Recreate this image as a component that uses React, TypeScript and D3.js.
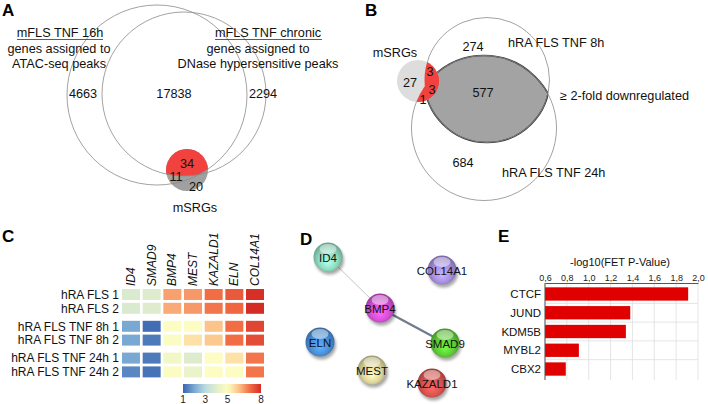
import React, { useRef, useEffect } from 'react';
import * as d3 from 'd3';

const width = 708;
const height = 404;
const font = '"Liberation Sans", Arial, Helvetica, sans-serif';

// A: mFLS gene sets vs mSRGs
const vennASets = ['mFLS TNF 16h', 'mFLS TNF chronic'];
const vennASubs = [['genes assigned to', 'ATAC-seq peaks'], ['genes assigned to', 'DNase hypersensitive peaks']];
const vennACounts = [4663, 17838, 2294];
const srgACounts = [34, 11, 20];

// B: hRA FLS downregulated genes vs mSRGs
const vennBSets = ['hRA FLS TNF 8h', 'hRA FLS TNF 24h'];
const vennBCounts = [274, 577, 684];
const srgBCounts = [27, 3, 3, 1];

// C: heatmap
const samples = ['hRA FLS 1', 'hRA FLS 2', 'hRA FLS TNF 8h 1', 'hRA FLS TNF 8h 2', 'hRA FLS TNF 24h 1', 'hRA FLS TNF 24h 2'];
const sampleGroup = [0, 0, 1, 1, 2, 2];
const genes = ['ID4', 'SMAD9', 'BMP4', 'MEST', 'KAZALD1', 'ELN', 'COL14A1'];
const expression = [
  [3.8, 3.9, 6.4, 6.5, 7.0, 7.3, 7.95],
  [3.8, 3.9, 6.3, 6.5, 6.9, 7.1, 8.0],
  [2.0, 1.1, 5.0, 5.0, 6.0, 7.0, 7.6],
  [2.0, 1.3, 4.9, 5.5, 5.9, 7.0, 7.5],
  [2.0, 1.3, 4.6, 3.9, 5.0, 5.5, 6.9],
  [1.5, 1.2, 4.9, 4.3, 5.0, 5.0, 6.9],
];
const colorTicks = [1, 3, 5, 8];
const colorStops = [1, 2, 3, 4, 5, 6, 7, 8];
const colorRange = ['#3a66b0', '#79a8d3', '#bcdce0', '#e2eecb', '#fdfdc3', '#fcc48b', '#f26c44', '#d42c25'];

// D: STRING network
const nodes = ['ID4', 'COL14A1', 'BMP4', 'ELN', 'SMAD9', 'MEST', 'KAZALD1'];
const nodeColors = ['#8fdcbf', '#a68fe0', '#d64fd6', '#4a8fd6', '#5ecb36', '#ddd59c', '#d9534f'];
const links = [['ID4', 'BMP4', 1], ['BMP4', 'SMAD9', 2]];

// E: bar chart
const factors = ['CTCF', 'JUND', 'KDM5B', 'MYBL2', 'CBX2'];
const fetScores = [1.91, 1.38, 1.34, 0.91, 0.79];
const fetTicks = [0.6, 0.8, 1.0, 1.2, 1.4, 1.6, 1.8, 2.0];

// layout for the network (pixel positions inside panel D)
const nodeLayout = {
  ID4: [328, 257], COL14A1: [442, 270], BMP4: [380, 308], ELN: [320, 342],
  SMAD9: [445, 343], MEST: [372, 370], KAZALD1: [432, 383],
};

export default function App() {
  const svgRef = useRef(null);

  useEffect(() => {
    const svg = d3.select(svgRef.current);
    svg.selectAll('*').remove();
    svg.attr('width', width).attr('height', height).style('font-family', font);
    const defs = svg.append('defs');

    const letter = (t, x, y) => svg.append('text').attr('x', x).attr('y', y)
      .attr('font-size', 17).attr('font-weight', 'bold').text(t);

    const label = (g, t, x, y, size = 12.7, anchor = 'middle') => g.append('text')
      .attr('x', x).attr('y', y).attr('dy', '0.35em').attr('text-anchor', anchor)
      .attr('font-size', size).attr('fill', '#111').text(t);

    // ---------- A ----------
    const gA = svg.append('g');
    letter('A', 2, 16);
    const cL = { x: 157, y: 95, r: 90 };
    const cR = { x: 184, y: 94, r: 82 };
    const cS = { x: 187, y: 170, r: 21 };
    defs.append('clipPath').attr('id', 'clipAL').append('circle').attr('cx', cL.x).attr('cy', cL.y).attr('r', cL.r);
    defs.append('clipPath').attr('id', 'clipAR').append('circle').attr('cx', cR.x).attr('cy', cR.y).attr('r', cR.r);

    gA.append('circle').attr('cx', cS.x).attr('cy', cS.y).attr('r', cS.r).attr('fill', '#a0a0a0');
    gA.append('g').attr('clip-path', 'url(#clipAL)')
      .append('g').attr('clip-path', 'url(#clipAR)')
      .append('circle').attr('cx', cS.x).attr('cy', cS.y).attr('r', cS.r).attr('fill', '#f2423f');
    [cL, cR].forEach(c => gA.append('circle').attr('cx', c.x).attr('cy', c.y).attr('r', c.r)
      .attr('fill', 'none').attr('stroke', '#8a8a8a').attr('stroke-width', 0.8));

    const titleA = [[60, 17, 103], [268, 215, 322]];
    vennASets.forEach((s, i) => {
      const [cx, x0, x1] = titleA[i];
      label(gA, s, cx, 33);
      gA.append('line').attr('x1', x0).attr('x2', x1).attr('y1', 39.5).attr('y2', 39.5)
        .attr('stroke', '#333').attr('stroke-width', 0.8);
      vennASubs[i].forEach((t, j) => label(gA, t, i === 0 ? 59 : 258, 49 + j * 15));
    });
    const posA = [[83, 94], [174, 94], [263, 94]];
    vennACounts.forEach((v, i) => label(gA, String(v), posA[i][0], posA[i][1]));
    const posSA = [[187, 164], [176, 177], [196, 187]];
    srgACounts.forEach((v, i) => label(gA, String(v), posSA[i][0], posSA[i][1]));
    label(gA, 'mSRGs', 195, 208);

    // ---------- B ----------
    const gB = svg.append('g');
    letter('B', 365, 16);
    const cT = { x: 487, y: 80, r: 62.5 };
    const cB = { x: 484, y: 128, r: 72.5 };
    const cM = { x: 418, y: 81, r: 21 };
    defs.append('clipPath').attr('id', 'clipBT').append('circle').attr('cx', cT.x).attr('cy', cT.y).attr('r', cT.r);
    defs.append('clipPath').attr('id', 'clipBB').append('circle').attr('cx', cB.x).attr('cy', cB.y).attr('r', cB.r);
    gB.append('g').attr('clip-path', 'url(#clipBB)')
      .append('circle').attr('cx', cT.x).attr('cy', cT.y).attr('r', cT.r)
      .attr('fill', '#a3a3a3').attr('stroke', '#333').attr('stroke-width', 1.6);
    gB.append('g').attr('clip-path', 'url(#clipBT)')
      .append('circle').attr('cx', cB.x).attr('cy', cB.y).attr('r', cB.r)
      .attr('fill', 'none').attr('stroke', '#333').attr('stroke-width', 1.6);
    [cT, cB].forEach(c => gB.append('circle').attr('cx', c.x).attr('cy', c.y).attr('r', c.r)
      .attr('fill', 'none').attr('stroke', '#8a8a8a').attr('stroke-width', 0.8));
    gB.append('circle').attr('cx', cM.x).attr('cy', cM.y).attr('r', cM.r).attr('fill', '#dddddd');
    ['clipBT', 'clipBB'].forEach(id => gB.append('g').attr('clip-path', `url(#${id})`)
      .append('circle').attr('cx', cM.x).attr('cy', cM.y).attr('r', cM.r).attr('fill', '#f2423f'));

    label(gB, 'mSRGs', 395, 53);
    const posB = [[473, 47], [483, 93], [463, 163]];
    vennBCounts.forEach((v, i) => label(gB, String(v), posB[i][0], posB[i][1]));
    const posSB = [[410, 83], [430, 72], [432, 90], [423, 100]];
    srgBCounts.forEach((v, i) => label(gB, String(v), posSB[i][0], posSB[i][1]));
    label(gB, vennBSets[0], 508, 43, 12.7, 'start');
    label(gB, vennBSets[1], 502, 173, 12.7, 'start');
    label(gB, '\u2265 2-fold downregulated', 560, 96, 12.7, 'start');

    // ---------- C ----------
    const gC = svg.append('g');
    letter('C', 2, 242);
    const color = d3.scaleLinear().domain(colorStops).range(colorRange).interpolate(d3.interpolateRgb);
    const xC = d3.scaleBand().domain(genes).range([122, 264]).paddingInner(0.13);
    const rowY = d3.scaleLinear().domain([0, 5]).range([289, 359]);
    const yOf = i => rowY(i) + sampleGroup[i] * 4.2 - i * 0.2;
    const cellH = 11;
    expression.forEach((row, i) => {
      row.forEach((v, j) => {
        gC.append('rect').attr('x', xC(genes[j])).attr('y', yOf(i))
          .attr('width', xC.bandwidth()).attr('height', cellH).attr('fill', color(v));
      });
      label(gC, samples[i], 119, yOf(i) + cellH / 2, 12, 'end');
    });
    genes.forEach(g => {
      gC.append('text').attr('transform', `translate(${xC(g) + xC.bandwidth() / 2 + 4},286) rotate(-90)`)
        .attr('font-size', 12).attr('font-style', 'italic').attr('fill', '#111').text(g);
    });
    const grad = defs.append('linearGradient').attr('id', 'cbar');
    d3.range(0, 1.0001, 0.05).forEach(t => grad.append('stop')
      .attr('offset', `${t * 100}%`).attr('stop-color', color(1 + 7 * t)));
    const xBar = d3.scaleLinear().domain([1, 8]).range([183, 261]);
    gC.append('rect').attr('x', xBar(1)).attr('y', 384).attr('width', xBar(8) - xBar(1)).attr('height', 9)
      .attr('fill', 'url(#cbar)');
    colorTicks.forEach(t => {
      gC.append('text').attr('x', xBar(t)).attr('y', 403).attr('text-anchor', 'middle')
        .attr('font-size', 10).attr('fill', '#222').text(t);
    });

    // ---------- D ----------
    const gD = svg.append('g');
    letter('D', 300, 245);
    const shadow = defs.append('filter').attr('id', 'nodeShadow').attr('x', '-50%').attr('y', '-50%')
      .attr('width', '200%').attr('height', '200%');
    shadow.append('feGaussianBlur').attr('stdDeviation', 1.6);
    links.forEach(([a, b, w]) => {
      gD.append('line').attr('x1', nodeLayout[a][0]).attr('y1', nodeLayout[a][1])
        .attr('x2', nodeLayout[b][0]).attr('y2', nodeLayout[b][1])
        .attr('stroke', w > 1 ? '#6f7b8f' : '#c4c4c4').attr('stroke-width', w > 1 ? 2.2 : 1);
    });
    nodes.forEach((n, i) => {
      const [x, y] = nodeLayout[n];
      const c = d3.color(nodeColors[i]);
      const gid = `ng${i}`;
      const rg = defs.append('radialGradient').attr('id', gid).attr('cx', '50%').attr('cy', '55%').attr('r', '55%')
        .attr('fx', '50%').attr('fy', '70%');
      rg.append('stop').attr('offset', '0%').attr('stop-color', c.brighter(0.6));
      rg.append('stop').attr('offset', '60%').attr('stop-color', c);
      rg.append('stop').attr('offset', '100%').attr('stop-color', c.darker(0.9));
      gD.append('circle').attr('cx', x + 1.5).attr('cy', y + 3).attr('r', 14.5)
        .attr('fill', '#000').attr('opacity', 0.35).attr('filter', 'url(#nodeShadow)');
      gD.append('circle').attr('cx', x).attr('cy', y).attr('r', 14.5).attr('fill', `url(#${gid})`);
      gD.append('ellipse').attr('cx', x).attr('cy', y - 8).attr('rx', 8.5).attr('ry', 5)
        .attr('fill', '#fff').attr('opacity', 0.45);
      label(gD, n, x, y + 1, 11.5);
    });

    // ---------- E ----------
    const gE = svg.append('g');
    letter('E', 498, 242);
    const x = d3.scaleLinear().domain([0.6, 2.0]).range([545, 698]);
    const y = d3.scaleBand().domain(factors).range([284.6, 378.4]).paddingInner(0.29).paddingOuter(0.145);
    const step = y.step();
    fetTicks.forEach(t => gE.append('line').attr('x1', x(t)).attr('x2', x(t)).attr('y1', 283).attr('y2', 380)
      .attr('stroke', '#dedede').attr('stroke-width', 0.8));
    factors.forEach((f, i) => {
      if (i > 0) {
        const yy = y(f) - (step - y.bandwidth()) / 2;
        gE.append('line').attr('x1', 545).attr('x2', 698).attr('y1', yy).attr('y2', yy)
          .attr('stroke', '#dedede').attr('stroke-width', 0.8);
      }
    });
    gE.selectAll('rect.bar').data(factors).enter().append('rect').attr('class', 'bar')
      .attr('x', x(0.6)).attr('y', d => y(d)).attr('height', y.bandwidth())
      .attr('width', (d, i) => x(fetScores[i]) - x(0.6)).attr('fill', '#e00000');
    const axis = d3.axisTop(x).tickValues(fetTicks).tickSize(0).tickPadding(2.5)
      .tickFormat(d => d3.format('.1f')(d).replace('.', ','));
    const ax = gE.append('g').attr('transform', 'translate(0,283)').call(axis);
    ax.select('.domain').attr('stroke', '#555').attr('stroke-width', 1);
    ax.selectAll('text').attr('font-size', 9).attr('font-family', font).attr('fill', '#222');
    gE.append('line').attr('x1', 545).attr('x2', 545).attr('y1', 283).attr('y2', 380)
      .attr('stroke', '#555').attr('stroke-width', 1);
    factors.forEach(f => label(gE, f, 541, y(f) + y.bandwidth() / 2, 11.5, 'end'));
    label(gE, '-log10(FET P-Value)', 620, 262, 11);
  }, []);

  return (
    <div style={{ position: 'absolute', left: 0, top: 0, background: '#fff' }}>
      <svg ref={svgRef}></svg>
    </div>
  );
}
